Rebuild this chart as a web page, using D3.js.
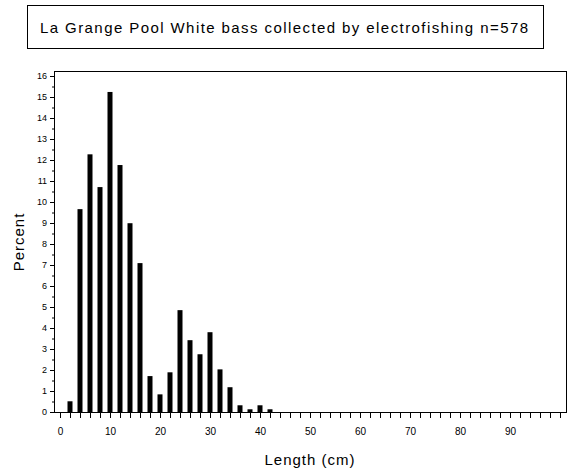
<!DOCTYPE html><html><head><script src="https://cdn.jsdelivr.net/npm/d3@7"></script>
<style>body{margin:0;background:#fff}text{font-family:"Liberation Sans",Arial,sans-serif}</style></head><body>
<script>
const lengths=[2,4,6,8,10,12,14,16,18,20,22,24,26,28,30,32,34,36,38,40,42];
const percents=[0.51,9.66,12.27,10.71,15.24,11.76,8.99,7.09,1.71,0.84,1.89,4.85,3.42,2.75,3.80,2.03,1.18,0.32,0.13,0.32,0.13];
const yTicks=d3.range(0,17);
const xLabels=[0,10,20,30,40,50,60,70,80,90];
const title="La Grange Pool White bass collected by electrofishing n=578";
const svg=d3.select("body").append("svg").attr("width",570).attr("height",475);
svg.append("rect").attr("x",27.5).attr("y",5.5).attr("width",516).attr("height",43).attr("fill","none").attr("stroke","#000");
svg.append("text").attr("x",40).attr("y",33).attr("font-size",15).attr("textLength",488).attr("lengthAdjust","spacing").text(title);
const x=d3.scaleLinear().domain([0,100]).range([60,560]);
const y=d3.scaleLinear().domain([0,16]).range([412,76]);
svg.append("rect").attr("x",54.5).attr("y",71.5).attr("width",512).attr("height",341).attr("fill","none").attr("stroke","#000");
svg.selectAll(".bar").data(lengths).enter().append("rect").attr("x",d=>x(d)-2.5).attr("width",5)
 .attr("y",(d,i)=>y(percents[i])).attr("height",(d,i)=>y(0)-y(percents[i])).attr("fill","#000");
const xa=svg.append("g").attr("transform","translate(0,412)").call(d3.axisBottom(x).tickValues(d3.range(0,101,2)).tickSize(6).tickFormat(d=>xLabels.includes(d)?d:""));
xa.select(".domain").remove();
xa.selectAll("text").attr("font-size",10).attr("dy","1.4em");
const ya=svg.append("g").attr("transform","translate(54,0)").call(d3.axisLeft(y).tickValues(yTicks).tickSize(4).tickFormat(d3.format("d")));
ya.select(".domain").remove();ya.selectAll("text").attr("font-size",9);
svg.append("g").attr("transform","translate(54,0)").call(d3.axisLeft(y).tickValues(d3.range(0,16,0.5).filter(v=>v%1)).tickSize(2).tickFormat("")).select(".domain").remove();
svg.append("text").attr("x",310).attr("y",465).attr("text-anchor","middle").attr("font-size",15).attr("letter-spacing",1).text("Length (cm)");
svg.append("text").attr("transform","translate(24,242) rotate(-90)").attr("text-anchor","middle").attr("font-size",15).attr("letter-spacing",1).text("Percent");
</script></body></html>
